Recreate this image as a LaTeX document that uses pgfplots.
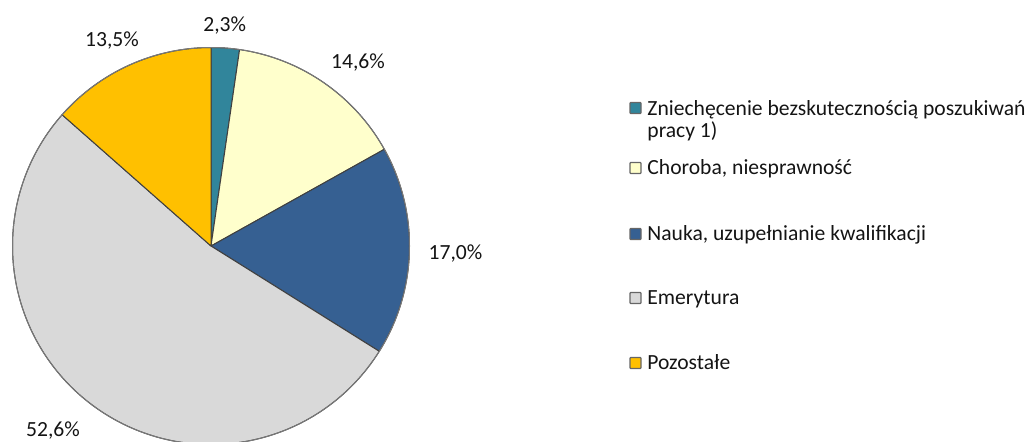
\documentclass[border=0pt]{standalone}
\usepackage{pgfplots}
\pgfplotsset{compat=1.18}
\usepackage{pgfplotstable}
\usepackage{fontspec}
\setmainfont{Carlito}

\definecolor{cTeal}{RGB}{49,133,155}
\definecolor{cCream}{RGB}{255,255,204}
\definecolor{cNavy}{RGB}{54,96,146}
\definecolor{cGray}{RGB}{217,217,217}
\definecolor{cGold}{RGB}{255,192,0}
\definecolor{cEdge}{RGB}{64,64,64}
\definecolor{cText}{RGB}{20,20,20}

% share in %, slice colour, label centre x and baseline y (pixels, from top)
\pgfplotstableread{
share fill  lx    ly
2.3   cTeal  224.7 31.7
14.6  cCream 358   68.3
17.0  cNavy  455.5 259.3
52.6  cGray  53    436.7
13.5  cGold  112   46.7
}\piedata

\newcommand{\lsize}{\fontsize{10.8}{11}\selectfont}

\begin{document}
\begin{tikzpicture}
\begin{axis}[
  x=0.5pt, y=0.5pt,
  xmin=0, xmax=1027, ymin=0, ymax=441,
  hide axis, enlargelimits=false, clip=true,
]
% pie, centre (211,246) px, radius 198.5 px
\def\cum{0}
\pgfplotsforeachungrouped \i in {0,...,4}{
  \pgfplotstablegetelem{\i}{share}\of\piedata \let\sh\pgfplotsretval
  \pgfplotstablegetelem{\i}{fill}\of\piedata \let\col\pgfplotsretval
  \pgfplotstablegetelem{\i}{lx}\of\piedata \let\lx\pgfplotsretval
  \pgfplotstablegetelem{\i}{ly}\of\piedata \let\ly\pgfplotsretval
  \pgfmathsetmacro\a{90-3.6*\cum}
  \pgfmathsetmacro\cum{\cum+\sh}
  \pgfmathsetmacro\b{90-3.6*\cum}
  \pgfmathsetmacro\lyy{441-\ly}
  \pgfmathprintnumberto[fixed,fixed zerofill,precision=1,use comma,assume math mode=true]{\sh}{\lbl}
  \edef\temp{%
    \noexpand\filldraw[fill=\col, draw=cEdge, line width=0.5pt, line join=round]
      (axis cs:211,195) -- ++(\a:99.25pt) arc[start angle=\a, end angle=\b, radius=99.25pt] -- cycle;
    \noexpand\node[anchor=base, inner sep=0pt, text=cText, font=\noexpand\lsize]
      at (axis cs:\lx,\lyy) {\unexpanded\expandafter{\lbl}\noexpand\%};
  }
  \temp
}
\draw[cEdge!70, line width=0.5pt] (axis cs:211,195) circle[radius=99.25pt];

% legend
\foreach \yy/\cc in {108/cTeal,168/cCream,234/cNavy,298/cGray,363/cGold}{
  \edef\temp{\noexpand\filldraw[fill=\cc, draw=cEdge!80, line width=0.6pt, rounded corners=0.4pt]
    (axis cs:630,{441-\yy-5.5}) rectangle (axis cs:641,{441-\yy+5.5});}
  \temp
}
\begin{scope}[every node/.style={anchor=base west, inner sep=0pt, text=cText, font=\lsize}]
\node at (axis cs:647,{441-115}) {Zniechęcenie bezskutecznością poszukiwań};
\node at (axis cs:647,{441-137}) {pracy 1)};
\node at (axis cs:647,{441-174.5}) {Choroba, niesprawność};
\node at (axis cs:647,{441-240}) {Nauka, uzupełnianie kwalifikacji};
\node at (axis cs:647,{441-304}) {Emerytura};
\node at (axis cs:647,{441-369}) {Pozostałe};
\end{scope}
\end{axis}
\pgfresetboundingbox
\path (current axis.south west) rectangle (current axis.north east);
\end{tikzpicture}
\end{document}
